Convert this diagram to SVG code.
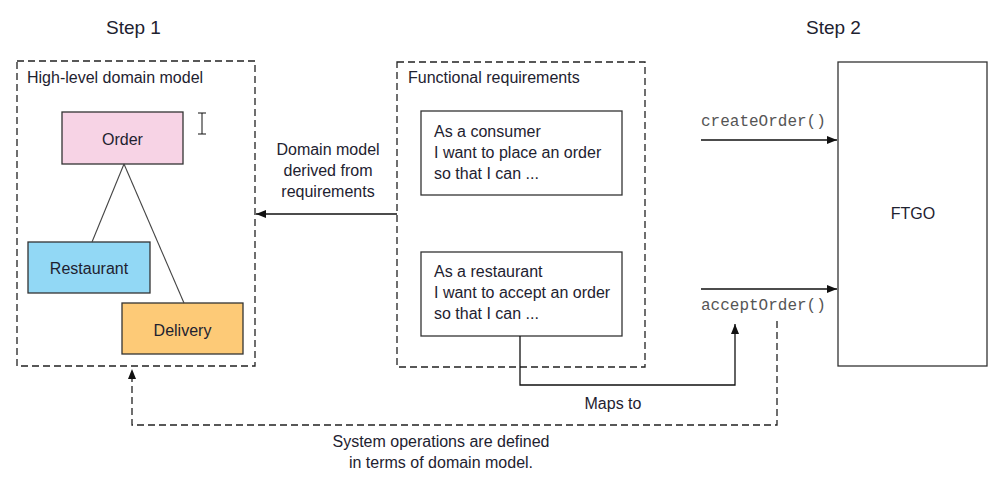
<svg xmlns="http://www.w3.org/2000/svg" width="995" height="483" viewBox="0 0 995 483">
<defs>
<style>
text{font-family:"Liberation Sans",Arial,sans-serif;font-size:16px;fill:#1e2230}
.mono{font-family:"Liberation Mono","Courier New",monospace;font-size:16px;fill:#555}
.c{text-anchor:middle}
.step{font-size:19px}
.box{stroke:#333;stroke-width:1.3}
.dash{fill:none;stroke:#222;stroke-width:1.3;stroke-dasharray:7 4}
.line{fill:none;stroke:#111;stroke-width:1.3}
.thin{fill:none;stroke:#444;stroke-width:1.1}
</style>
<marker id="ah" viewBox="0 0 10 8" refX="10" refY="4" markerWidth="10" markerHeight="8" markerUnits="userSpaceOnUse" orient="auto">
<path d="M0,0 L10,4 L0,8 Z" fill="#111"/>
</marker>
</defs>
<rect width="995" height="483" fill="#fff"/>

<text class="step" x="106" y="34">Step 1</text>
<text class="step" x="806" y="34">Step 2</text>

<g id="domain-model">
<rect class="dash" x="17" y="61" width="238" height="305"/>
<text x="27" y="83">High-level domain model</text>
</g>

<g id="order">
<rect class="box" x="62" y="112" width="121" height="52" fill="#f7d3e5"/>
<text class="c" x="122.5" y="145">Order</text>
</g>
<g id="restaurant">
<rect class="box" x="28" y="242" width="122" height="51" fill="#92d8f5"/>
<text class="c" x="89" y="274">Restaurant</text>
</g>
<g id="delivery">
<rect class="box" x="122" y="303" width="121" height="51" fill="#fdca77"/>
<text class="c" x="182.5" y="336">Delivery</text>
</g>

<g id="cursor" fill="none" stroke="#111" stroke-width="1">
<path d="M202,113 V134 M198,113 H206 M198,134 H206"/>
</g>

<g id="functional-requirements">
<rect class="dash" x="397" y="62" width="248" height="305"/>
<text x="408" y="83">Functional requirements</text>
</g>
<g id="story-consumer">
<rect class="box" x="421" y="111" width="201" height="84" fill="#fff"/>
<text x="434" y="137">As a consumer</text>
<text x="434" y="158">I want to place an order</text>
<text x="434" y="179">so that I can ...</text>
</g>
<g id="story-restaurant">
<rect class="box" x="421" y="252" width="201" height="84" fill="#fff"/>
<text x="434" y="277">As a restaurant</text>
<text x="434" y="298">I want to accept an order</text>
<text x="434" y="319">so that I can ...</text>
</g>

<g id="ftgo">
<rect class="box" x="838" y="62" width="149" height="304" fill="#fff"/>
<text class="c" x="913" y="219">FTGO</text>
</g>

<g id="connectors">
<path class="thin" d="M124,164 L92,242"/>
<path class="thin" d="M124,164 L184,303"/>
<path class="line" d="M397,214 H256" marker-end="url(#ah)"/>
<path class="line" d="M701,140 H837" marker-end="url(#ah)"/>
<path class="line" d="M701,289 H837" marker-end="url(#ah)"/>
<path class="line" d="M520,336 V385 H735 V324" marker-end="url(#ah)"/>
<path class="dash" d="M777,321 V425 H132 V378"/>
<path d="M132,369 L136,379 L128,379 Z" fill="#111"/>
</g>

<g id="labels">
<text class="c" x="328" y="155">Domain model</text>
<text class="c" x="328" y="176">derived from</text>
<text class="c" x="328" y="197">requirements</text>
<text class="mono" x="701" y="126">createOrder()</text>
<text class="mono" x="701" y="310">acceptOrder()</text>
<text class="c" x="613" y="409">Maps to</text>
<text class="c" x="441" y="447">System operations are defined</text>
<text class="c" x="441" y="468">in terms of domain model.</text>
</g>
</svg>
